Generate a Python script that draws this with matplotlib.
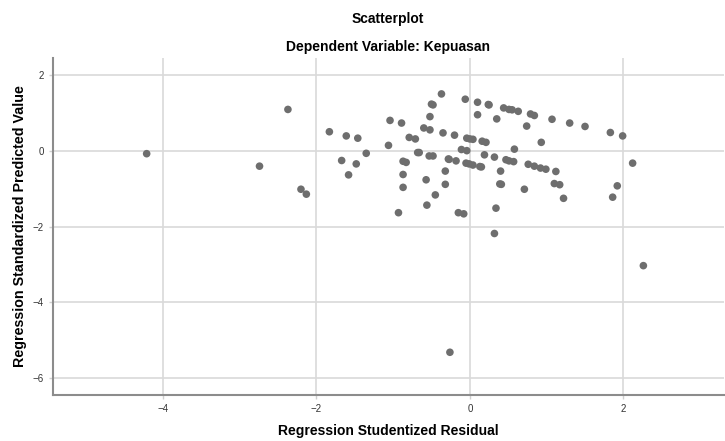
import numpy as np
import matplotlib
matplotlib.use('Agg')
import matplotlib.pyplot as plt

# Regression Studentized Residual (x) / Regression Standardized Predicted Value (y)
resid = [-4.21, -2.74, -2.37, -2.20, -2.13, -1.83, -1.61, -1.46, -1.35, -1.67,
         -1.48, -1.58, -1.04, -0.89, -1.06, -0.79, -0.71, -0.87, -0.83, -0.87,
         -0.87, -0.93, -0.68, -0.66, -0.60, -0.52, -0.52, -0.50, -0.48, -0.37,
         -0.53, -0.48, -0.57, -0.56, -0.45, -0.35, -0.28, -0.27, -0.32, -0.32,
         -0.20, -0.18, -0.15, -0.08, -0.06, -0.11, -0.04, -0.04, 0.00, 0.04,
         -0.05, -0.01, 0.04, 0.13, 0.15, 0.10, 0.10, 0.24, 0.25, 0.35,
         0.16, 0.21, 0.19, 0.32, 0.40, 0.39, 0.41, 0.34, 0.32, 0.44,
         0.51, 0.55, 0.63, 0.58, 0.47, 0.51, 0.57, 0.79, 0.84, 1.07,
         1.30, 1.50, 1.83, 1.99, 0.74, 0.93, 0.76, 0.84, 0.92, 0.99,
         1.12, 0.71, 1.10, 1.17, 1.22, 1.86, 1.92, 2.12, 2.26, -0.26]
pred = [-0.07, -0.40, 1.10, -1.01, -1.14, 0.51, 0.40, 0.34, -0.06, -0.25,
        -0.34, -0.63, 0.81, 0.74, 0.15, 0.36, 0.32, -0.27, -0.30, -0.62,
        -0.96, -1.63, -0.04, -0.04, 0.61, 0.56, 0.91, 1.24, 1.22, 1.51,
        -0.13, -0.13, -0.76, -1.43, -1.16, 0.48, -0.21, -0.22, -0.53, -0.88,
        0.42, -0.26, -1.63, -1.66, 1.37, 0.04, 0.01, 0.34, 0.32, 0.31,
        -0.32, -0.34, -0.37, -0.41, -0.42, 1.29, 0.96, 1.23, 1.22, 0.85,
        0.26, 0.23, -0.10, -0.16, -0.53, -0.87, -0.88, -1.51, -2.18, 1.14,
        1.10, 1.09, 1.05, 0.05, -0.23, -0.26, -0.28, 0.98, 0.94, 0.84,
        0.74, 0.65, 0.49, 0.40, 0.66, 0.23, -0.35, -0.40, -0.45, -0.48,
        -0.54, -1.01, -0.86, -0.89, -1.25, -1.22, -0.92, -0.32, -3.03, -5.32]

x_ticks = [-4, -2, 0, 2]
y_ticks = [-6, -4, -2, 0, 2]

plt.rcParams['font.family'] = ['Liberation Sans', 'DejaVu Sans']

fig = plt.figure(figsize=[7.25, 4.41], dpi=100)
ax = fig.add_axes([0.0731, 0.1043, 0.9255, 0.7642])

ax.scatter(resid, pred, s=30, color='#6e6e6e', edgecolors='none', zorder=3)

ax.set_xlim(-5.43, 3.31)
ax.set_ylim(-6.45, 2.46)
ax.set_xticks(x_ticks)
ax.set_yticks(y_ticks)
ax.grid(True, color='#d9d9d9', linewidth=1.2, zorder=0)
ax.set_axisbelow(True)

for side in ['top', 'right']:
    ax.spines[side].set_visible(False)
for side in ['left', 'bottom']:
    ax.spines[side].set_color('#8c8c8c')
    ax.spines[side].set_linewidth(1.5)

ax.tick_params(axis='both', labelsize=7, colors='#d0d0d0', labelcolor='#333333', length=3, width=1)

ax.set_xlabel('Regression Studentized Residual', fontsize=10, fontweight='bold', labelpad=7)
ax.set_ylabel('Regression Standardized Predicted Value', fontsize=10.3, fontweight='bold', labelpad=4)

fig.text(0.535, 0.958, 'Scatterplot', ha='center', va='center', fontsize=10, fontweight='bold')
fig.text(0.535, 0.893, 'Dependent Variable: Kepuasan', ha='center', va='center', fontsize=10, fontweight='bold')

fig.savefig('out.png', dpi=100)
